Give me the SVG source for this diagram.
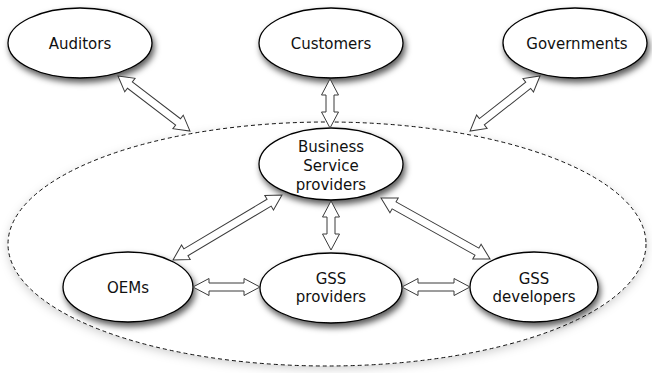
<svg xmlns="http://www.w3.org/2000/svg" width="652" height="373" viewBox="0 0 652 373">
<style>
.node{fill:#fff;stroke:#000;stroke-width:1.3;filter:url(#sh)}
.lbl{font-family:"DejaVu Sans",sans-serif;font-size:15px;fill:#111;text-anchor:middle}
.arr{fill:#fff;stroke:#3a3a3a;stroke-width:1;stroke-linejoin:miter}
.group{fill:none;stroke:#111;stroke-width:1;stroke-dasharray:4 3}
</style>
<defs>
<filter id="sh" x="-20%" y="-20%" width="140%" height="150%">
<feDropShadow dx="2" dy="4" stdDeviation="3" flood-color="#000" flood-opacity="0.65"/>
</filter>
<filter id="glow" x="-10%" y="-10%" width="120%" height="130%">
<feDropShadow dx="0" dy="3" stdDeviation="5" flood-color="#000" flood-opacity="0.18"/>
</filter>
</defs>
<rect width="652" height="373" fill="#fff"/>
<g id="boundary">
<ellipse cx="327" cy="244" rx="319" ry="122" fill="#fff" filter="url(#glow)"/>
<ellipse class="group" cx="327" cy="244" rx="319" ry="122"/>
</g>
<g id="auditors"><ellipse class="node" cx="80" cy="43" rx="72" ry="35"/><text class="lbl" x="80" y="49">Auditors</text></g>
<g id="customers"><ellipse class="node" cx="331" cy="43" rx="72" ry="35"/><text class="lbl" x="331" y="49">Customers</text></g>
<g id="governments"><ellipse class="node" cx="575" cy="43" rx="72" ry="35"/><text class="lbl" x="577" y="49">Governments</text></g>
<g id="bsp"><ellipse class="node" cx="331" cy="164" rx="72" ry="36"/><text class="lbl" x="331" y="152">Business</text><text class="lbl" x="331" y="171">Service</text><text class="lbl" x="331" y="190">providers</text></g>
<g id="oems"><ellipse class="node" cx="128" cy="287" rx="65" ry="35"/><text class="lbl" x="128" y="293">OEMs</text></g>
<g id="gssp"><ellipse class="node" cx="331" cy="288" rx="71" ry="35"/><text class="lbl" x="331" y="284">GSS</text><text class="lbl" x="331" y="302">providers</text></g>
<g id="gssd"><ellipse class="node" cx="534" cy="287" rx="64" ry="35"/><text class="lbl" x="534" y="284">GSS</text><text class="lbl" x="534" y="302">developers</text></g>
<g id="connectors">
<polygon class="arr" transform="translate(118,76) rotate(37.4)" points="0,0 15,-8.5 15,-4 75.6,-4 75.6,-8.5 90.6,0 75.6,8.5 75.6,4 15,4 15,8.5"/>
<polygon class="arr" transform="translate(330,79) rotate(90)" points="0,0 16,-8.5 16,-4 33,-4 33,-8.5 49,0 33,8.5 33,4 16,4 16,8.5"/>
<polygon class="arr" transform="translate(540,76) rotate(141.8)" points="0,0 15,-8.5 15,-4 74,-4 74,-8.5 89,0 74,8.5 74,4 15,4 15,8.5"/>
<polygon class="arr" transform="translate(282,195) rotate(149.2)" points="0,0 15,-8.5 15,-4 111.9,-4 111.9,-8.5 126.9,0 111.9,8.5 111.9,4 15,4 15,8.5"/>
<polygon class="arr" transform="translate(331,201) rotate(90)" points="0,0 16,-8.5 16,-4 33,-4 33,-8.5 49,0 33,8.5 33,4 16,4 16,8.5"/>
<polygon class="arr" transform="translate(381,198) rotate(29.2)" points="0,0 15,-8.5 15,-4 109.9,-4 109.9,-8.5 124.9,0 109.9,8.5 109.9,4 15,4 15,8.5"/>
<polygon class="arr" transform="translate(193,287)" points="0,0 16,-8.5 16,-4 51,-4 51,-8.5 67,0 51,8.5 51,4 16,4 16,8.5"/>
<polygon class="arr" transform="translate(402,287)" points="0,0 16,-8.5 16,-4 52,-4 52,-8.5 68,0 52,8.5 52,4 16,4 16,8.5"/>
</g>
</svg>
